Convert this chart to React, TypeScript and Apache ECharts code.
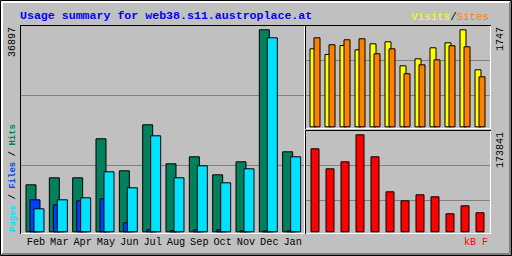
import React, { useEffect, useRef } from "react";
import * as echarts from "echarts";

const months = ["Feb", "Mar", "Apr", "May", "Jun", "Jul", "Aug", "Sep", "Oct", "Nov", "Dec", "Jan"];
const hits = [8724, 9997, 9997, 17085, 11269, 19630, 12541, 13814, 10542, 12905, 36897, 14722];
const files = [5998, 5089, 5816, 6180, 1818, 545, 364, 545, 545, 364, 364, 364];
const pages = [4362, 5998, 6362, 11087, 8179, 17631, 9997, 12178, 9088, 11633, 35443, 13814];
const visits = [1408, 1307, 1467, 1390, 1497, 1533, 1105, 1230, 1426, 1515, 1747, 1034];
const sites = [1604, 1480, 1569, 1587, 1319, 1408, 963, 1123, 1212, 1462, 1444, 909];
const kbytes = [149006, 113529, 125946, 173841, 134815, 72729, 56765, 67407, 63860, 33704, 47895, 35478];
const maxMain = 36897;
const maxVisits = 1747;
const maxKb = 173841;
const title = "Usage summary for web38.s11.austroplace.at";

const MONO = "'Liberation Mono', 'DejaVu Sans Mono', monospace";
const C = {
  bg: "#c0c0c0",
  dark: "#808080",
  hits: "#00805c",
  files: "#0040ff",
  pages: "#00e0ff",
  visits: "#ffff00",
  sites: "#ff8000",
  kb: "#ff0000",
  title: "#0000ff",
};

function line(x1: number, y1: number, x2: number, y2: number, color: string, z = 10) {
  return { type: "line", z, silent: true, shape: { x1, y1, x2, y2 }, style: { stroke: color, lineWidth: 1 } };
}

export default function App() {
  const ref = useRef<HTMLDivElement>(null);
  useEffect(() => {
    if (!ref.current) return;
    const chart = echarts.init(ref.current, undefined, { renderer: "svg" });
    const border = { borderColor: "#000", borderWidth: 1 };
    const option: any = {
      animation: false,
      backgroundColor: C.bg,
      grid: [
        { left: 23.33, top: 29.3, width: 280, height: 203 },
        { left: 307.5, top: 29.3, width: 180, height: 98 },
        { left: 307.5, top: 134.3, width: 180, height: 98 },
      ],
      xAxis: [0, 1, 2].map((g) => ({
        type: "category",
        gridIndex: g,
        data: months,
        axisLine: { show: false },
        axisTick: { show: false },
        splitLine: { show: false },
        axisLabel:
          g === 0
            ? {
                show: true,
                interval: 0,
                margin: 10,
                verticalAlign: "middle",
                color: "#000",
                fontFamily: MONO,
                fontSize: 10.3,
                padding: [0, 0, 0, 2],
              }
            : { show: false },
      })),
      yAxis: [maxMain, maxVisits, maxKb].map((m, g) => ({
        type: "value",
        gridIndex: g,
        min: 0,
        max: m,
        show: false,
        splitLine: { show: false },
      })),
      series: [
        { type: "bar", name: "Hits", xAxisIndex: 0, yAxisIndex: 0, data: hits, barWidth: 11, barGap: "-63.64%", itemStyle: { color: C.hits, ...border } },
        { type: "bar", name: "Files", xAxisIndex: 0, yAxisIndex: 0, data: files, barWidth: 11, barGap: "-63.64%", itemStyle: { color: C.files, ...border } },
        { type: "bar", name: "Pages", xAxisIndex: 0, yAxisIndex: 0, data: pages, barWidth: 11, barGap: "-63.64%", itemStyle: { color: C.pages, ...border } },
        { type: "bar", name: "Visits", xAxisIndex: 1, yAxisIndex: 1, data: visits, barWidth: 7, barGap: "-42.857%", itemStyle: { color: C.visits, ...border } },
        { type: "bar", name: "Sites", xAxisIndex: 1, yAxisIndex: 1, data: sites, barWidth: 7, barGap: "-42.857%", itemStyle: { color: C.sites, ...border } },
        { type: "bar", name: "kB", xAxisIndex: 2, yAxisIndex: 2, data: kbytes, barWidth: 9, itemStyle: { color: C.kb, ...border } },
      ].map((s) => ({ ...s, silent: true, emphasis: { disabled: true } })),
      graphic: [
        // outer frame
        { type: "rect", z: 10, silent: true, shape: { x: 0.5, y: 0.5, width: 511, height: 255 }, style: { fill: "none", stroke: "#000", lineWidth: 1 } },
        { type: "polyline", z: 10, silent: true, shape: { points: [[1.5, 254], [1.5, 1.5], [510, 1.5]] }, style: { fill: "none", stroke: "#fff", lineWidth: 1 } },
        { type: "polyline", z: 10, silent: true, shape: { points: [[2.5, 253], [2.5, 2.5], [509, 2.5]] }, style: { fill: "none", stroke: "#fff", lineWidth: 1 } },
        { type: "polyline", z: 10, silent: true, shape: { points: [[510.5, 1], [510.5, 254.5], [1, 254.5]] }, style: { fill: "none", stroke: C.dark, lineWidth: 1 } },
        { type: "polyline", z: 10, silent: true, shape: { points: [[509.5, 2], [509.5, 253.5], [2, 253.5]] }, style: { fill: "none", stroke: C.dark, lineWidth: 1 } },
        // grid lines
        line(21, 95.5, 304, 95.5, C.dark, 0),
        line(21, 165.5, 304, 165.5, C.dark, 0),
        line(306, 60.5, 490, 60.5, C.dark, 0),
        line(306, 95.5, 490, 95.5, C.dark, 0),
        line(306, 165.5, 490, 165.5, C.dark, 0),
        line(306, 200.5, 490, 200.5, C.dark, 0),
        // main panel
        line(20, 25.5, 305, 25.5, "#000"),
        line(20.5, 25, 20.5, 234, "#000"),
        line(304.5, 26, 304.5, 234, "#fff"),
        line(21, 233.5, 305, 233.5, "#fff"),
        // top right panel
        line(305, 25.5, 491, 25.5, "#000"),
        line(305.5, 25, 305.5, 129, "#000"),
        line(490.5, 26, 490.5, 129, "#fff"),
        line(306, 128.5, 491, 128.5, "#fff"),
        // bottom right panel
        line(305, 130.5, 491, 130.5, "#000"),
        line(305.5, 130, 305.5, 234, "#000"),
        line(490.5, 131, 490.5, 234, "#fff"),
        line(306, 233.5, 491, 233.5, "#fff"),
        // texts
        {
          type: "text", z: 11, silent: true, x: 20, y: 15,
          style: { text: title, fill: C.title, font: `bold 11.6px ${MONO}`, align: "left", verticalAlign: "middle" },
        },
        {
          type: "text", z: 11, silent: true, x: 489, y: 16.5,
          style: {
            text: "{v|Visits}{s|/}{o|Sites}",
            font: `10.8px ${MONO}`,
            align: "right",
            verticalAlign: "middle",
            rich: {
              v: { fill: C.visits, font: `10.8px ${MONO}` },
              s: { fill: "#000", font: `10.8px ${MONO}` },
              o: { fill: C.sites, font: `10.8px ${MONO}` },
            },
          },
        },
        {
          type: "text", z: 11, silent: true, x: 12.5, y: 232, rotation: Math.PI / 2,
          style: {
            text: "{p|Pages}{s| / }{f|Files}{s| / }{h|Hits}",
            font: `9px ${MONO}`,
            align: "left",
            verticalAlign: "middle",
            rich: {
              p: { fill: C.pages, font: `bold 9px ${MONO}` },
              s: { fill: "#000", font: `bold 9px ${MONO}` },
              f: { fill: C.files, font: `bold 9px ${MONO}` },
              h: { fill: C.hits, font: `bold 9px ${MONO}` },
            },
          },
        },
        {
          type: "text", z: 11, silent: true, x: 12.5, y: 27, rotation: Math.PI / 2,
          style: { text: String(maxMain), fill: "#000", font: `10px ${MONO}`, align: "right", verticalAlign: "middle" },
        },
        {
          type: "text", z: 11, silent: true, x: 500, y: 27, rotation: Math.PI / 2,
          style: { text: String(maxVisits), fill: "#000", font: `10px ${MONO}`, align: "right", verticalAlign: "middle" },
        },
        {
          type: "text", z: 11, silent: true, x: 500, y: 132, rotation: Math.PI / 2,
          style: { text: String(maxKb), fill: "#000", font: `10px ${MONO}`, align: "right", verticalAlign: "middle" },
        },
        {
          type: "text", z: 11, silent: true, x: 488, y: 242.5,
          style: { text: "kB F", fill: C.kb, font: `10px ${MONO}`, align: "right", verticalAlign: "middle" },
        },
      ],
    };
    chart.setOption(option);
    return () => chart.dispose();
  }, []);
  return <div ref={ref} style={{ position: "fixed", left: 0, top: 0, width: 512, height: 256 }} />;
}
